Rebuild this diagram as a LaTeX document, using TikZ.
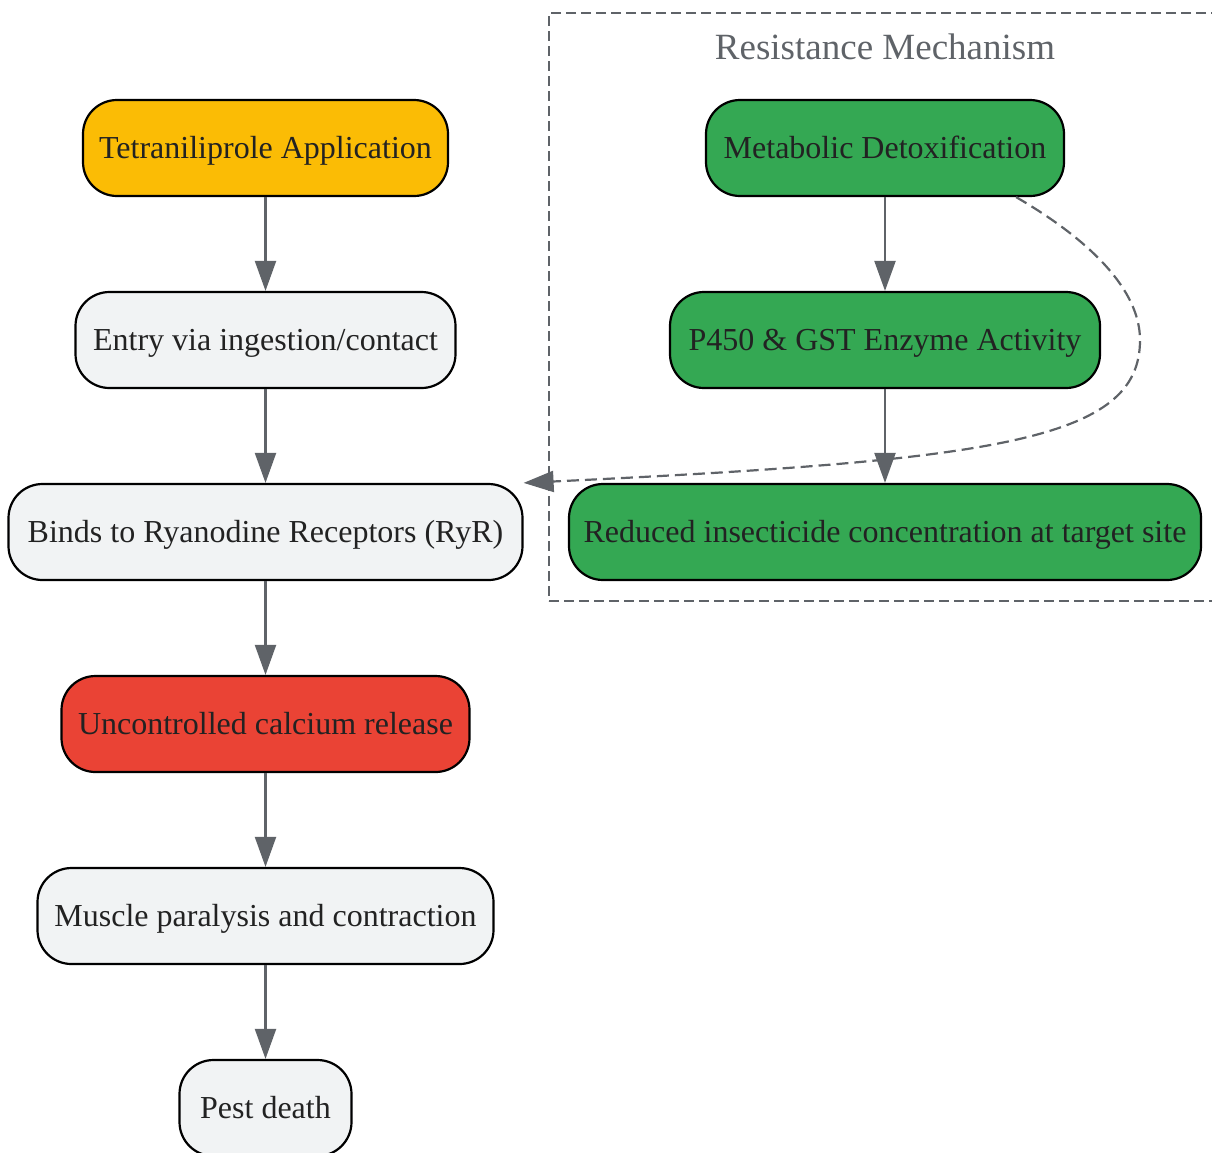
\documentclass[tikz,border=0pt]{standalone}
\usepackage{fontspec}
\setmainfont{Liberation Serif}
\usepackage{xcolor}
\usetikzlibrary{arrows.meta, positioning}
\definecolor{edgegray}{RGB}{95,99,104}
\definecolor{nodegray}{RGB}{241,243,244}
\definecolor{appyellow}{RGB}{251,188,5}
\definecolor{alertred}{RGB}{234,67,53}
\definecolor{resgreen}{RGB}{52,168,83}
\definecolor{textdark}{RGB}{34,34,34}
\tikzset{
    stepbox/.style={rectangle, rounded corners=34pt, minimum height=96pt, text centered, draw=black, line width=2.2pt, fill=nodegray, text=textdark, inner xsep=6pt, text height=26pt, text depth=6pt, font=\fontsize{32}{36}\selectfont},
    startbox/.style={stepbox, fill=appyellow},
    alertbox/.style={stepbox, fill=alertred},
    resbox/.style={stepbox, fill=resgreen},
    cluster/.style={rectangle, draw=edgegray, line width=2.2pt, dash pattern=on 10pt off 5pt, minimum width=672pt, minimum height=588pt},
    clustertitle/.style={text=edgegray, font=\fontsize{37}{42}\selectfont},
    flow/.style={-{Triangle[length=30pt, width=21pt]}, line width=2.2pt, draw=edgegray},
    resflow/.style={flow, dash pattern=on 12pt off 6pt}
}
\begin{document}
\begin{tikzpicture}[
    x=1pt, y=-1pt,
    node distance=93.8pt
]
    \useasboundingbox (0,0) rectangle (1212,1152);

    % Resistance cluster
    \node[cluster] (resist) at (885,307) {};
    \node[clustertitle] (restitle) at (885,47) {Resistance Mechanism};

    % Mode of action chain
    \node[startbox, minimum width=365pt] (apply) at (265.5,148) {Tetraniliprole Application};
    \node[stepbox, minimum width=380pt, below=of apply] (entry) {Entry via ingestion/contact};
    \node[stepbox, minimum width=514pt, below=of entry] (bind) {Binds to Ryanodine Receptors (RyR)};
    \node[alertbox, minimum width=408pt, below=of bind] (calcium) {Uncontrolled calcium release};
    \node[stepbox, minimum width=456pt, below=of calcium] (muscle) {Muscle paralysis and contraction};
    \node[stepbox, minimum width=172pt, below=of muscle] (death) {Pest death};

    % Resistance chain
    \node[resbox, minimum width=358pt] (meta) at (885,148) {Metabolic Detoxification};
    \node[resbox, minimum width=430pt, below=of meta] (enzyme) {P450 \& GST Enzyme Activity};
    \node[resbox, minimum width=632pt, below=of enzyme] (reduced) {Reduced insecticide concentration at target site};

    % Connections
    \draw[flow] (apply) -- (entry);
    \draw[flow] (entry) -- (bind);
    \draw[flow] (bind) -- (calcium);
    \draw[flow] (calcium) -- (muscle);
    \draw[flow] (muscle) -- (death);
    \draw[flow] (meta) -- (enzyme);
    \draw[flow] (enzyme) -- (reduced);

    % Resistance acts back on the target
    \draw[resflow] ([xshift=-49pt]meta.south east) .. controls (1090,240) and (1140,290) .. (1140,340)
        .. controls (1140,440) and (1000,460) .. (bind.north east);
\end{tikzpicture}
\end{document}
